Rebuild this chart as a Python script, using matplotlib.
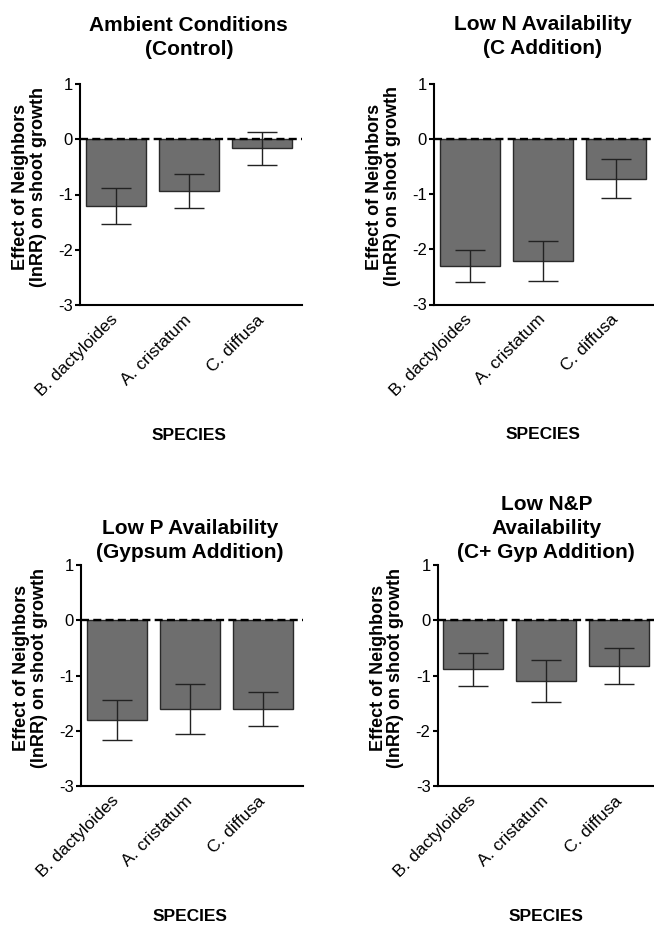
import matplotlib
matplotlib.use("Agg")
import matplotlib.pyplot as plt
import numpy as np

plt.rcParams['font.family'] = ['Liberation Sans', 'DejaVu Sans']

species = ["B. dactyloides", "A. cristatum", "C. diffusa"]
titles = ["Ambient Conditions\n(Control)",
          "Low N Availability\n(C Addition)",
          "Low P Availability\n(Gypsum Addition)",
          "Low N&P\nAvailability\n(C+ Gyp Addition)"]

control_mean = [-1.21, -0.94, -0.16]
control_se = [0.32, 0.31, 0.30]
c_add_mean = [-2.30, -2.21, -0.72]
c_add_se = [0.29, 0.36, 0.35]
gyp_mean = [-1.81, -1.60, -1.61]
gyp_se = [0.36, 0.45, 0.31]
cgyp_mean = [-0.89, -1.10, -0.83]
cgyp_se = [0.30, 0.38, 0.33]

yticks = [-3, -2, -1, 0, 1]

means = [control_mean, c_add_mean, gyp_mean, cgyp_mean]
ses = [control_se, c_add_se, gyp_se, cgyp_se]

W, H = 654, 925
fig = plt.figure(figsize=(W / 100, H / 100), dpi=100)

# axes rectangles in pixels: left, top, width, height
rects = [(80, 84, 222, 221), (434, 83.5, 222, 221),
         (81, 565, 222, 221), (437.5, 565, 222, 221)]
title_gap = [0.115, 0.115, 0.012, 0.012]

for i in range(4):
    l, t, w, h = rects[i]
    ax = fig.add_axes([l / W, (H - t - h) / H, w / W, h / H])
    x = np.arange(len(species))
    ax.bar(x, means[i], width=0.82, color='#6e6e6e', edgecolor='#2a2a2a',
           linewidth=1.0, zorder=2)
    ax.errorbar(x, means[i], yerr=ses[i], fmt='none', ecolor='#222222',
                elinewidth=1.0, capsize=10.5, capthick=1.0, zorder=3)
    ax.axhline(0, color='black', lw=1.7, linestyle=(0, (3.4, 1.8)), zorder=4)
    ax.set_xlim(-0.49, 2.55)
    ax.set_ylim(-3, 1)
    ax.set_yticks(yticks)
    ax.set_yticklabels([str(v) for v in yticks], fontsize=12)
    ax.set_xticks(x)
    ax.set_xticklabels(species, rotation=45, ha='right', va='center',
                       rotation_mode='anchor', fontsize=12.5)
    ax.tick_params(axis='x', length=0, pad=9)
    ax.tick_params(axis='y', length=3.5, width=1.5, pad=1.5, direction='out')
    for s in ['top', 'right']:
        ax.spines[s].set_visible(False)
    for s in ['left', 'bottom']:
        ax.spines[s].set_linewidth(1.5)
    ax.set_ylabel("Effect of Neighbors\n(lnRR) on shoot growth",
                  fontsize=13, fontweight='bold', linespacing=1.05)
    ax.yaxis.set_label_coords(-0.15, 0.534)
    ax.text(0.49, 1 + title_gap[i], titles[i], transform=ax.transAxes,
            ha='center', va='bottom', fontsize=15, fontweight='bold',
            linespacing=1.33)
    ax.text(0.49, -0.59, "SPECIES", transform=ax.transAxes, ha='center',
            va='center', fontsize=12.5, fontweight='bold')

fig.savefig("out.png", dpi=100)
